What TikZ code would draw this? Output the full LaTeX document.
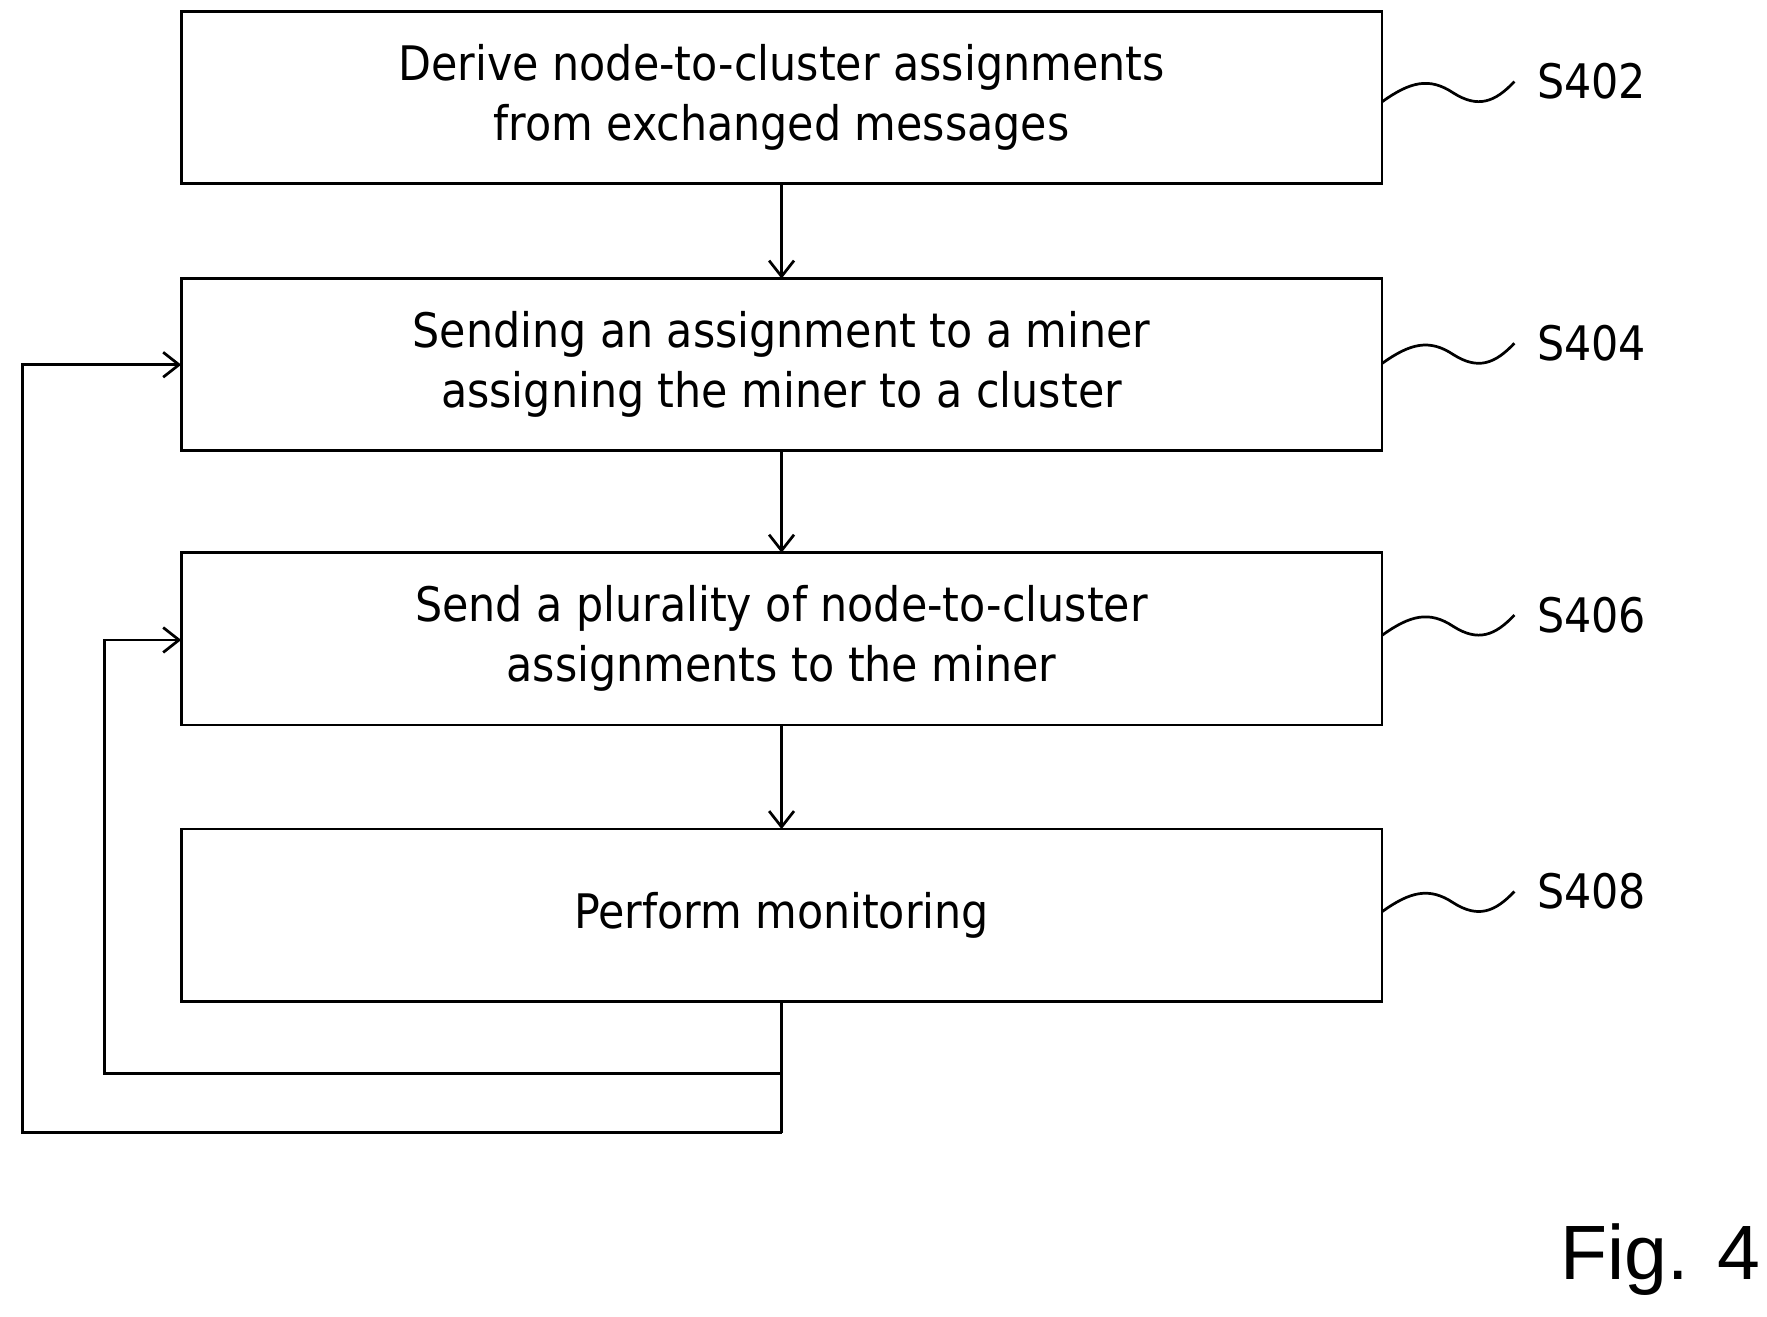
\documentclass[tikz,border=0pt]{standalone}
\usepackage{fontspec}
\setmainfont{DejaVu Sans Condensed}
\newfontfamily\arialf{Liberation Sans}
\usetikzlibrary{arrows.meta}
\begin{document}
\begin{tikzpicture}[x=0.5pt,y=-0.5pt,
 box/.style={draw,line width=1.2pt,minimum width=530pt,minimum height=76pt,anchor=north west,inner sep=0pt,outer sep=0pt,align=center,font=\fontsize{21}{26.5}\selectfont},
 arr/.style={-{Straight Barb[length=7pt,width=11pt]},line width=1.2pt},
 ln/.style={line width=1.2pt},
 lab/.style={font=\fontsize{21}{25}\selectfont}]
\useasboundingbox (0,0) rectangle (1560,1162);
\node[box] (b1) at (160,10) {Derive node-to-cluster assignments\\from exchanged messages};
\node[box] (b2) at (160,246) {Sending an assignment to a miner\\assigning the miner to a cluster};
\node[box] (b3) at (160,488) {Send a plurality of node-to-cluster\\assignments to the miner};
\node[box] (b4) at (160,732) {Perform monitoring};
\draw[arr] (b1) -- (b2);
\draw[arr] (b2) -- (b3);
\draw[arr] (b3) -- (b4);
\path (b4.south) ++(0,64) coordinate (j1) ++(0,52) coordinate (j2);
\draw[ln] (b4.south) -- (j1) -- (j2);
\draw[arr] (j1) -- (92,948) -- (92,565) -- (b3.west |- 0,565);
\draw[arr] (j2) -- (20,1000) -- (20,322) -- (b2.west |- 0,322);
\foreach \b/\t/\y in {b1/S402/72,b2/S404/303,b3/S406/543,b4/S408/787}{
 \node[lab] (l\t) at (1405,\y) {\t};
 \draw[ln] (\b.east |- 0,\y+18) .. controls (1245,\y) and (1262,\y-4) .. (1283,\y+10)
   .. controls (1305,\y+24) and (1320,\y+18) .. (1337,\y);
}
\node[font=\arialf\fontsize{34}{40}\selectfont] (fig) at (1466,1112) {Fig. 4};
\end{tikzpicture}
\end{document}
